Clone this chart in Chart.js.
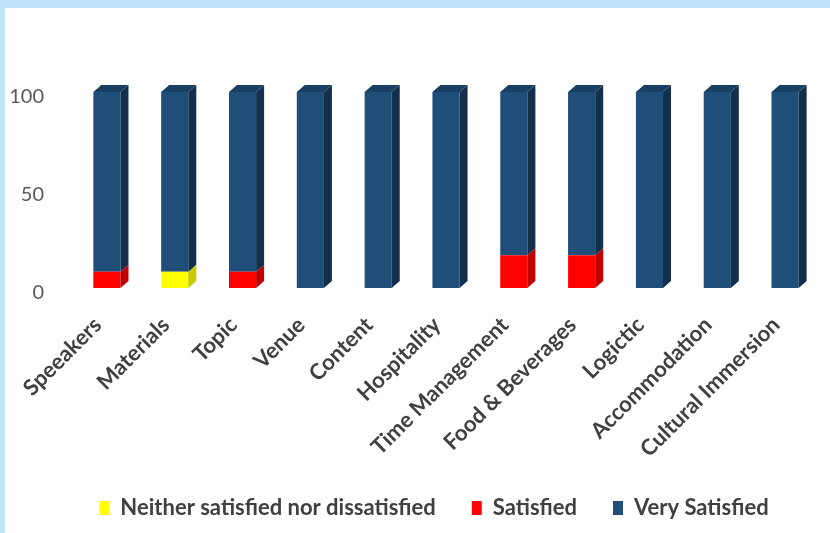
<!DOCTYPE html>
<html>
<head>
<meta charset="utf-8">
<script src="https://cdn.jsdelivr.net/npm/chart.js@4.4.0/dist/chart.umd.min.js"></script>
<style>
  html, body { margin: 0; padding: 0; background: #fff; }
  #frame {
    width: 825px; height: 525px;
    border-left: 5px solid #bfe3f8;
    border-top: 8px solid #bfe3f8;
  }
  #chart { display: block; }
</style>
</head>
<body>
<div id="frame"><canvas id="chart" width="825" height="525"></canvas></div>
<script>
const categories = ["Speeakers", "Materials", "Topic", "Venue", "Content", "Hospitality",
  "Time Management", "Food & Beverages", "Logictic", "Accommodation", "Cultural Immersion"];
const neither = [0, 8.3, 0, 0, 0, 0, 0, 0, 0, 0, 0];
const satisfied = [8.3, 0, 8.3, 0, 0, 0, 16.7, 16.7, 0, 0, 0];
const verySatisfied = [91.7, 91.7, 91.7, 100, 100, 100, 83.3, 83.3, 100, 100, 100];
const yTicks = [0, 50, 100];

// front, side, top colours for the fake 3d look
const shades = [
  { front: "#ffff00", side: "#c9c900", top: "#e0e000" },
  { front: "#ff0000", side: "#c00000", top: "#d80000" },
  { front: "#1f4e79", side: "#142f4c", top: "#193f63" },
];

const depth = { dx: 8, dy: -7 };

const bar3d = {
  id: "bar3d",
  afterDatasetsDraw(chart) {
    const ctx = chart.ctx;
    const n = chart.data.labels.length;
    for (let i = 0; i < n; i++) {
      let topSeg = null;
      chart.data.datasets.forEach((ds, d) => {
        if (!ds.data[i]) return;
        const el = chart.getDatasetMeta(d).data[i];
        const right = el.x + el.width / 2;
        const top = Math.min(el.y, el.base), bottom = Math.max(el.y, el.base);
        ctx.fillStyle = shades[d].side;
        ctx.beginPath();
        ctx.moveTo(right, top);
        ctx.lineTo(right + depth.dx, top + depth.dy);
        ctx.lineTo(right + depth.dx, bottom + depth.dy);
        ctx.lineTo(right, bottom);
        ctx.closePath();
        ctx.fill();
        topSeg = { el, d, top };
      });
      if (topSeg) {
        const left = topSeg.el.x - topSeg.el.width / 2;
        const right = topSeg.el.x + topSeg.el.width / 2;
        ctx.fillStyle = shades[topSeg.d].top;
        ctx.beginPath();
        ctx.moveTo(left, topSeg.top);
        ctx.lineTo(left + depth.dx, topSeg.top + depth.dy);
        ctx.lineTo(right + depth.dx, topSeg.top + depth.dy);
        ctx.lineTo(right, topSeg.top);
        ctx.closePath();
        ctx.fill();
      }
    }
  },
};

// the legend sits a bit right of centre in the original
const nudgeLegend = {
  id: "nudgeLegend",
  afterLayout(chart) {
    chart.legend.left += 22;
    chart.legend.right += 22;
  },
};

new Chart(document.getElementById("chart"), {
  type: "bar",
  data: {
    labels: categories,
    datasets: [
      { label: "Neither satisfied nor dissatisfied", data: neither, backgroundColor: shades[0].front },
      { label: "Satisfied", data: satisfied, backgroundColor: shades[1].front },
      { label: "Very Satisfied", data: verySatisfied, backgroundColor: shades[2].front },
    ],
  },
  options: {
    responsive: false,
    animation: false,
    events: [],
    layout: { padding: { top: 84, right: 11, left: 0, bottom: 4 } },
    datasets: { bar: { barPercentage: 1, categoryPercentage: 0.4, borderWidth: 0 } },
    plugins: {
      tooltip: { enabled: false },
      legend: {
        position: "bottom",
        labels: {
          color: "#404040",
          font: { family: "Lato", size: 22, weight: "bold" },
          boxWidth: 10,
          boxHeight: 14,
          padding: 36,
        },
      },
    },
    scales: {
      x: {
        stacked: true,
        grid: { display: false },
        border: { display: false },
        ticks: {
          color: "#404040",
          font: { family: "Lato", size: 22, weight: "bold" },
          maxRotation: 45,
          minRotation: 45,
          padding: 16,
          labelOffset: -9,
        },
        afterFit(scale) { scale.height = 173; },
      },
      y: {
        stacked: true,
        min: 0,
        max: 100,
        grid: { display: false },
        border: { display: false },
        afterBuildTicks(scale) { scale.ticks = yTicks.map(v => ({ value: v })); },
        ticks: {
          color: "#595959",
          font: { family: "Lato", size: 20 },
          padding: 21,
          labelOffset: 5,
        },
        afterFit(scale) { scale.width = 68; },
      },
    },
  },
  plugins: [bar3d, nudgeLegend],
});
</script>
</body>
</html>
